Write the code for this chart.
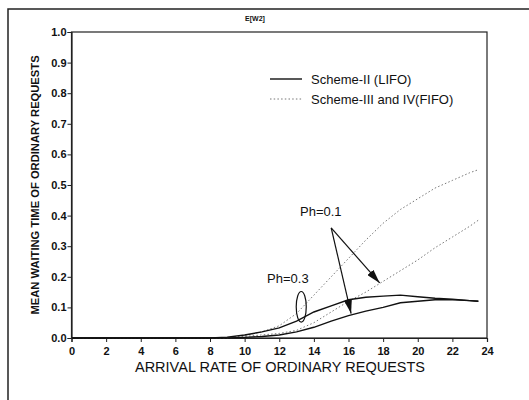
<!doctype html>
<html>
  <head>
    <meta charset="utf-8" />
    <title>E[W2]</title>
    <script src="https://cdn.jsdelivr.net/npm/d3@7"></script>
    <style>
      html,
      body {
        margin: 0;
        background: #fff;
        overflow: hidden;
      }
      text {
        font-family: "Liberation Sans", Arial, sans-serif;
        fill: #111;
      }
    </style>
  </head>
  <body>
    <script>
      // arrival rate of ordinary requests (x)
      const rates = [0, 2, 4, 6, 8, 9, 10, 11, 12, 13, 14, 15, 16, 17, 18, 19, 20, 21, 22, 23, 23.5];

      // Scheme-II (LIFO)
      const lifoPh03 = [0, 0, 0, 0, 0, 0.003, 0.01, 0.02, 0.033, 0.055, 0.085, 0.105, 0.125, 0.133, 0.137, 0.14, 0.135, 0.13, 0.127, 0.122, 0.12];
      const lifoPh01 = [0, 0, 0, 0, 0, 0, 0.002, 0.005, 0.01, 0.02, 0.035, 0.055, 0.073, 0.088, 0.1, 0.115, 0.12, 0.125, 0.125, 0.122, 0.12];

      // Scheme-III and IV (FIFO)
      const fifoPh03 = [0, 0, 0, 0, 0, 0.002, 0.008, 0.02, 0.04, 0.08, 0.14, 0.2, 0.26, 0.32, 0.375, 0.42, 0.455, 0.49, 0.515, 0.54, 0.55];
      const fifoPh01 = [0, 0, 0, 0, 0, 0, 0.005, 0.01, 0.015, 0.025, 0.05, 0.085, 0.12, 0.15, 0.185, 0.22, 0.255, 0.295, 0.33, 0.365, 0.385];

      const xTicks = [0, 2, 4, 6, 8, 10, 12, 14, 16, 18, 20, 22, 24];
      const yTicks = [0, 0.1, 0.2, 0.3, 0.4, 0.5, 0.6, 0.7, 0.8, 0.9, 1.0];

      const legendLabels = ["Scheme-II (LIFO)", "Scheme-III and IV(FIFO)"];

      // annotation anchors, in data units
      const ph01Label = { text: "Ph=0.1", x: 14.4, y: 0.4 };
      const ph01From = { x: 15.0, y: 0.36 };
      const ph01Tips = [
        { x: 16.15, y: 0.08 },
        { x: 17.8, y: 0.18 },
      ];
      const ph03Label = { text: "Ph=0.3", x: 12.5, y: 0.18 };
      const ph03Ellipse = { x: 13.27, y: 0.102, rx: 0.29, ry: 0.05 };

      const width = 529;
      const height = 400;
      const margin = { top: 32, right: 42, bottom: 62, left: 71.5 };

      const svg = d3
        .select("body")
        .append("svg")
        .attr("width", width)
        .attr("height", height);

      // outer frame (page border)
      svg
        .append("path")
        .attr("d", `M8,${height} V9 H${width}`)
        .attr("fill", "none")
        .attr("stroke", "#222")
        .attr("stroke-width", 1.5);

      const x = d3
        .scaleLinear()
        .domain([0, 24])
        .range([margin.left, width - margin.right]);
      const y = d3
        .scaleLinear()
        .domain([0, 1])
        .range([height - margin.bottom, margin.top]);

      svg
        .append("text")
        .attr("x", 255)
        .attr("y", 21)
        .attr("text-anchor", "middle")
        .attr("font-size", 7)
        .attr("font-weight", "bold")
        .text("E[W2]");

      // box around plot
      svg
        .append("rect")
        .attr("x", x(0))
        .attr("y", y(1))
        .attr("width", x(24) - x(0))
        .attr("height", y(0) - y(1))
        .attr("fill", "none")
        .attr("stroke", "#222")
        .attr("stroke-width", 1.2);

      const xAxis = svg
        .append("g")
        .attr("transform", `translate(0,${y(0)})`)
        .call(
          d3
            .axisBottom(x)
            .tickValues(xTicks)
            .tickSize(4)
            .tickFormat(d3.format("d")),
        );
      const yAxis = svg
        .append("g")
        .attr("transform", `translate(${x(0)},0)`)
        .call(
          d3
            .axisLeft(y)
            .tickValues(yTicks)
            .tickSize(4)
            .tickFormat(d3.format(".1f")),
        );
      [xAxis, yAxis].forEach((g) => {
        g.select(".domain").attr("stroke", "#222").attr("stroke-width", 1.2);
        g.selectAll(".tick line").attr("stroke", "#222");
        g.selectAll(".tick text")
          .attr("font-size", 11)
          .attr("font-weight", "bold")
          .attr("font-family", "Liberation Sans, Arial, sans-serif")
          .attr("fill", "#111");
      });
      xAxis.selectAll(".tick text").attr("dy", "0.9em");
      yAxis.selectAll(".tick text").attr("x", -5);

      svg
        .append("text")
        .attr("x", 280)
        .attr("y", 372)
        .attr("text-anchor", "middle")
        .attr("font-size", 14.5)
        .text("ARRIVAL RATE OF ORDINARY REQUESTS");

      svg
        .append("text")
        .attr("transform", `translate(39,${(y(0) + y(1)) / 2}) rotate(-90)`)
        .attr("text-anchor", "middle")
        .attr("font-size", 11.2)
        .attr("font-weight", "bold")
        .text("MEAN WAITING TIME OF ORDINARY REQUESTS");

      const line = d3
        .line()
        .x((d) => x(d[0]))
        .y((d) => y(d[1]));

      const series = [
        { values: fifoPh03, dotted: true },
        { values: fifoPh01, dotted: true },
        { values: lifoPh03, dotted: false },
        { values: lifoPh01, dotted: false },
      ];

      svg
        .append("g")
        .selectAll("path")
        .data(series)
        .join("path")
        .attr("fill", "none")
        .attr("stroke", (d) => (d.dotted ? "#777" : "#111"))
        .attr("stroke-width", (d) => (d.dotted ? 1 : 1.4))
        .attr("stroke-dasharray", (d) => (d.dotted ? "1.5,2.2" : null))
        .attr("d", (d) => line(rates.map((r, i) => [r, d.values[i]])));

      // legend
      const legend = svg
        .append("g")
        .selectAll("g")
        .data(legendLabels)
        .join("g")
        .attr("transform", (d, i) => `translate(270,${79 + i * 20})`);
      legend
        .append("line")
        .attr("x1", 0)
        .attr("x2", 32)
        .attr("stroke", (d, i) => (i ? "#777" : "#111"))
        .attr("stroke-width", (d, i) => (i ? 1 : 1.4))
        .attr("stroke-dasharray", (d, i) => (i ? "1.5,2.2" : null));
      legend
        .append("text")
        .attr("x", 41)
        .attr("y", 5)
        .attr("font-size", 13)
        .text((d) => d);

      // annotations
      svg
        .append("defs")
        .append("marker")
        .attr("id", "arrowhead")
        .attr("viewBox", "0 0 14 8")
        .attr("refX", 14)
        .attr("refY", 4)
        .attr("markerWidth", 14)
        .attr("markerHeight", 8)
        .attr("markerUnits", "userSpaceOnUse")
        .attr("orient", "auto")
        .append("path")
        .attr("d", "M0,0 L14,4 L0,8 Z")
        .attr("fill", "#111");

      svg
        .append("g")
        .selectAll("line")
        .data(ph01Tips)
        .join("line")
        .attr("x1", x(ph01From.x))
        .attr("y1", y(ph01From.y))
        .attr("x2", (d) => x(d.x))
        .attr("y2", (d) => y(d.y))
        .attr("stroke", "#111")
        .attr("stroke-width", 1.2)
        .attr("marker-end", "url(#arrowhead)");

      svg
        .append("g")
        .selectAll("text")
        .data([ph01Label, ph03Label])
        .join("text")
        .attr("x", (d) => x(d.x))
        .attr("y", (d) => y(d.y))
        .attr("text-anchor", "middle")
        .attr("font-size", 13)
        .text((d) => d.text);

      svg
        .append("ellipse")
        .attr("cx", x(ph03Ellipse.x))
        .attr("cy", y(ph03Ellipse.y))
        .attr("rx", x(ph03Ellipse.rx) - x(0))
        .attr("ry", y(0) - y(ph03Ellipse.ry))
        .attr("fill", "none")
        .attr("stroke", "#111")
        .attr("stroke-width", 1.2);
    </script>
  </body>
</html>
